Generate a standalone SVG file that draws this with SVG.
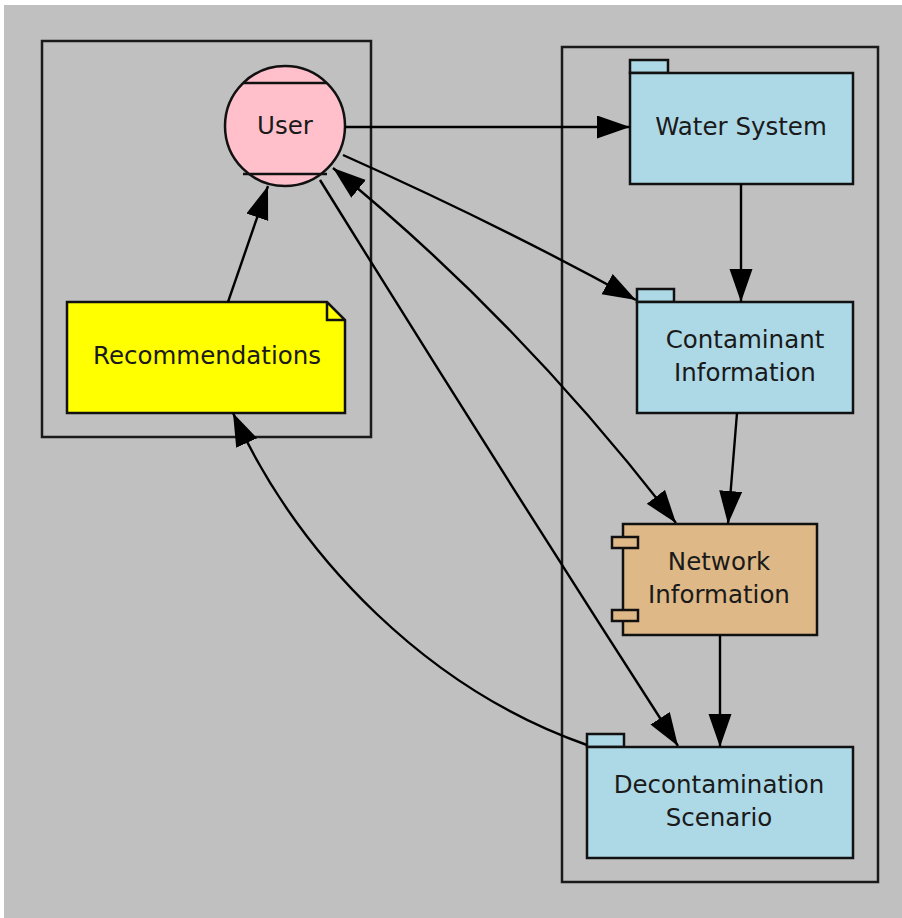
<svg xmlns="http://www.w3.org/2000/svg" width="902" height="918" viewBox="0 0 902 918">
<style>
.cluster{fill:none;stroke:#1a1a1a;stroke-width:2.5}
.node{stroke:#111;stroke-width:2.5}
.lbl{font-family:"DejaVu Sans",sans-serif;font-size:24.5px;fill:#1a1a1a;text-anchor:middle}
.edge{fill:none;stroke:#000;stroke-width:2.4}
</style>
<defs>
<marker id="ah" markerUnits="userSpaceOnUse" markerWidth="36" markerHeight="26" refX="33" refY="11.5" orient="auto-start-reverse">
<path d="M0,0 L33,11.5 L0,23 z" fill="#000"/>
</marker>
</defs>
<rect x="0" y="0" width="902" height="918" fill="#ffffff"/>
<rect x="4" y="5" width="898" height="913" fill="#c0c0c0"/>
<g id="clusters">
<rect class="cluster" x="42" y="41" width="329" height="396"/>
<rect class="cluster" x="562" y="47" width="316" height="835"/>
</g>
<g id="user">
<circle class="node" cx="285" cy="126" r="60" fill="#ffc0cb"/>
<line x1="243" y1="83" x2="327" y2="83" stroke="#111" stroke-width="2.5"/>
<line x1="243" y1="174" x2="327" y2="174" stroke="#111" stroke-width="2.5"/>
<text class="lbl" x="285" y="134">User</text>
</g>
<g id="water-system">
<rect class="node" x="630" y="60" width="38" height="13" fill="#add8e6"/>
<rect class="node" x="630" y="73" width="223" height="111" fill="#add8e6"/>
<text class="lbl" x="741" y="135">Water System</text>
</g>
<g id="contaminant-information">
<rect class="node" x="637" y="289" width="37" height="13" fill="#add8e6"/>
<rect class="node" x="637" y="302" width="216" height="111" fill="#add8e6"/>
<text class="lbl" x="745" y="348">Contaminant</text>
<text class="lbl" x="745" y="381">Information</text>
</g>
<g id="network-information">
<rect class="node" x="623" y="524" width="194" height="111" fill="#deb887"/>
<rect class="node" x="612" y="537" width="26" height="11" fill="#deb887"/>
<rect class="node" x="612" y="610" width="26" height="11" fill="#deb887"/>
<text class="lbl" x="719" y="570">Network</text>
<text class="lbl" x="719" y="603">Information</text>
</g>
<g id="decontamination-scenario">
<rect class="node" x="587" y="734" width="37" height="13" fill="#add8e6"/>
<rect class="node" x="587" y="747" width="266" height="111" fill="#add8e6"/>
<text class="lbl" x="719" y="793">Decontamination</text>
<text class="lbl" x="719" y="826">Scenario</text>
</g>
<g id="recommendations">
<path class="node" d="M67,302 L327,302 L345,320 L345,413 L67,413 z" fill="#ffff00"/>
<path d="M327,302 L327,320 L345,320" fill="none" stroke="#111" stroke-width="2.5"/>
<text class="lbl" x="207" y="364">Recommendations</text>
</g>
<g id="connectors">
<path class="edge" d="M345,127 L630,127" marker-end="url(#ah)"/>
<path class="edge" d="M741,184 L741,302" marker-end="url(#ah)"/>
<path class="edge" d="M343,155 Q 500,225 636,300" marker-end="url(#ah)"/>
<path class="edge" d="M333,168 Q 520,320 676,523" marker-start="url(#ah)" marker-end="url(#ah)"/>
<path class="edge" d="M320,180 Q 500,470 678,746" marker-end="url(#ah)"/>
<path class="edge" d="M737,413 L728,524" marker-end="url(#ah)"/>
<path class="edge" d="M720,635 L720,747" marker-end="url(#ah)"/>
<path class="edge" d="M228,302 L268,186" marker-end="url(#ah)"/>
<path class="edge" d="M587,745 C 430,690 300,560 233,413" marker-end="url(#ah)"/>
</g>
</svg>
